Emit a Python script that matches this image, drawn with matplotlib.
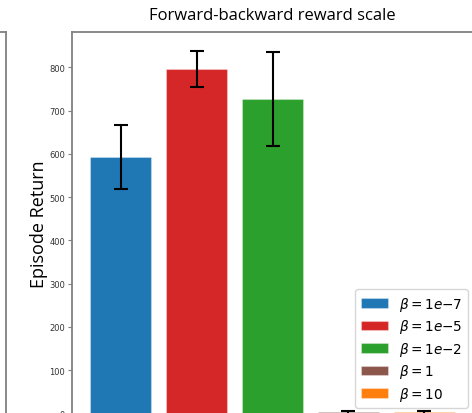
import matplotlib
matplotlib.use("Agg")
import matplotlib.pyplot as plt
import numpy as np

labels = [r"$\beta = 1e{-}7$", r"$\beta = 1e{-}5$", r"$\beta = 1e{-}2$", r"$\beta = 1$", r"$\beta = 10$"]
means = [594, 797, 727, 3, 3]
errs = [74, 42, 108, 3, 3]
colors = ["#1f77b4", "#d62728", "#2ca02c", "#8c564b", "#ff7f0e"]
yticks = [0, 100, 200, 300, 400, 500, 600, 700, 800]

W, H = 472, 414
fig = plt.figure(figsize=(W / 100, H / 100), dpi=100)

spine_col = "#808080"

# edge of the neighbouring panel (cropped)
ax0 = fig.add_axes([-0.5, -0.1, 0.5 + 6 / W, 1.1 - 33 / H])
ax0.set_xticks([]); ax0.set_yticks([])
for s in ax0.spines.values():
    s.set_color(spine_col); s.set_linewidth(1.3)

ax = fig.add_axes([72 / W, -0.5 / H, 401 / W, (414.5 - 33) / H])
x = np.arange(len(means))
ax.bar(x, means, width=0.8, color=colors, label=labels,
       yerr=errs, capsize=5, error_kw=dict(ecolor="black", elinewidth=1.5, capthick=1.5),
       edgecolor=[(1, 1, 1, 0.3)] * 5, linewidth=0.8)
ax.set_xlim(-0.64, 4.64)
ax.set_ylim(0, 882)
ax.set_xticks([])
ax.set_yticks(yticks)
ax.tick_params(axis="y", labelsize=6, length=3, color=spine_col, pad=2, labelcolor="#333333")
for s in ax.spines.values():
    s.set_color(spine_col); s.set_linewidth(1.3)
ax.set_title("Forward-backward reward scale", fontsize=12, family="Open Sans", pad=9)
ax.set_ylabel("Episode Return", fontsize=13, family="Open Sans", labelpad=1)
ax.legend(loc="lower right", fontsize=9.8, handlelength=2.0, labelspacing=0.33,
          borderaxespad=0.4)

fig.savefig("out.png", dpi=100)
